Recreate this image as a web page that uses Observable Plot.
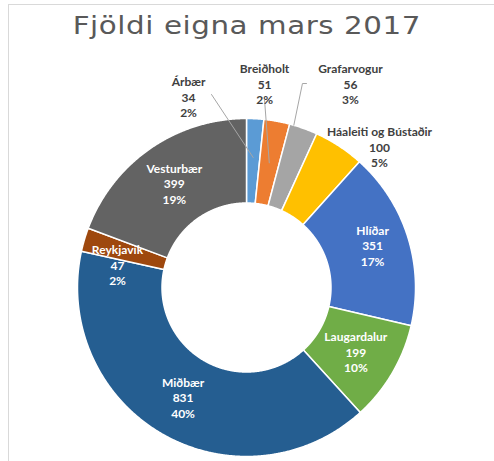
<!DOCTYPE html>
<html><head><meta charset="utf-8">
<script src="https://cdn.jsdelivr.net/npm/d3@7"></script>
<script src="https://cdn.jsdelivr.net/npm/@observablehq/plot@0.6"></script>
<style>
body{margin:0;background:#fff;}
#wrap{position:relative;width:494px;height:461px;overflow:hidden;}
#frame{position:absolute;left:8px;top:4px;width:600px;height:600px;border-left:1px solid #d9d9d9;border-top:1px solid #d9d9d9;}
#title{position:absolute;left:0;top:10px;width:494px;text-align:center;font:25.5px/30px "DejaVu Sans";letter-spacing:0.5px;color:#595959;white-space:nowrap;transform:scaleX(1.15);transform-origin:248px 0;}
#chart{position:absolute;left:0;top:50px;}
</style></head><body>
<div id="wrap"><div id="frame"></div><div id="title">Fjöldi eigna mars 2017</div><div id="chart"></div></div>
<script>
// ---- data ----
const names = ["Árbær","Breiðholt","Grafarvogur","Háaleiti og Bústaðir","Hlíðar","Laugardalur","Miðbær","Reykjavík","Vesturbær"];
const counts = [34, 51, 56, 100, 351, 199, 831, 47, 399];
const colors = ["#5B9BD5","#ED7D31","#A5A5A5","#FFC000","#4472C4","#70AD47","#255E91","#9E480E","#636363"];

// ---- layout (units of outer radius; x right, y up) ----
const holeRatio = 0.5;
const labelRadius = 0.75;
const labelPlacement = [
  {name:"Árbær", x:-0.343, y:1.13, outside:true},
  {name:"Breiðholt", x:0.107, y:1.207, outside:true},
  {name:"Grafarvogur", x:0.615, y:1.207, outside:true},
  {name:"Háaleiti og Bústaðir", x:0.787, y:0.834, outside:true},
  {name:"Hlíðar", x:0.746, y:0.249, outside:false},
  {name:"Reykjavík", x:-0.763, y:0.136, outside:false}
];
const leaders = [
  {name:"Árbær", start:[[-0.207,1.142]], endFrac:0.5, endR:0.77},
  {name:"Breiðholt", start:[[0.107,1.107]], endFrac:0.5, endR:0.75},
  {name:"Grafarvogur", start:[[0.355,1.207],[0.331,1.207]], endFrac:0.15, endR:1.0}
];

const total = d3.sum(counts);
let acc = 0;
const slices = names.map((name, i) => {
  const a0 = acc / total * 2 * Math.PI;
  acc += counts[i];
  const a1 = acc / total * 2 * Math.PI;
  return {name, value: counts[i], a0, a1, pct: Math.round(counts[i] / total * 100)};
});
const byName = new Map(slices.map(s => [s.name, s]));

const pts = slices.flatMap(s => {
  const n = Math.max(2, Math.ceil((s.a1 - s.a0) / 0.005));
  const out = [];
  for (let k = 0; k <= n; k++) { const a = s.a0 + (s.a1 - s.a0) * k / n; out.push({name: s.name, x: Math.sin(a), y: Math.cos(a)}); }
  for (let k = n; k >= 0; k--) { const a = s.a0 + (s.a1 - s.a0) * k / n; out.push({name: s.name, x: holeRatio * Math.sin(a), y: holeRatio * Math.cos(a)}); }
  return out;
});

const labels = slices.map(s => {
  const p = labelPlacement.find(d => d.name === s.name);
  const mid = (s.a0 + s.a1) / 2;
  return {
    name: s.name,
    text: `${s.name}\n${s.value}\n${s.pct}%`,
    x: p ? p.x : labelRadius * Math.sin(mid),
    y: p ? p.y : labelRadius * Math.cos(mid),
    outside: p ? p.outside : false
  };
});

const leaderPts = leaders.flatMap(l => {
  const s = byName.get(l.name);
  const a = s.a0 + (s.a1 - s.a0) * l.endFrac;
  return [...l.start.map(([x, y]) => ({name: l.name, x, y})), {name: l.name, x: l.endR * Math.sin(a), y: l.endR * Math.cos(a)}];
});

const R = 169, cx = 246, cy = 237;
const chart = Plot.plot({
  width: 494, height: 411,
  x: {domain: [-1, 1], range: [cx - R, cx + R], axis: null},
  y: {domain: [-1, 1], range: [cy + R, cy - R], axis: null},
  color: {domain: names, range: colors},
  style: {fontFamily: "Lato, 'Open Sans', sans-serif", background: "transparent"},
  marks: [
    Plot.line(pts, {x: "x", y: "y", z: "name", fill: "name", stroke: "white", strokeWidth: 1.5, curve: "linear-closed"}),
    Plot.line(leaderPts, {x: "x", y: "y", z: "name", stroke: "#a6a6a6", strokeWidth: 1}),
    Plot.text(labels.filter(d => !d.outside), {x: "x", y: "y", text: "text", fill: "white", fontSize: 12, fontWeight: "bold", lineHeight: 1.3}),
    Plot.text(labels.filter(d => d.outside), {x: "x", y: "y", text: "text", fill: "#404040", fontSize: 12, fontWeight: "bold", lineHeight: 1.3})
  ]
});
document.getElementById("chart").appendChild(chart);
</script>
</body></html>
